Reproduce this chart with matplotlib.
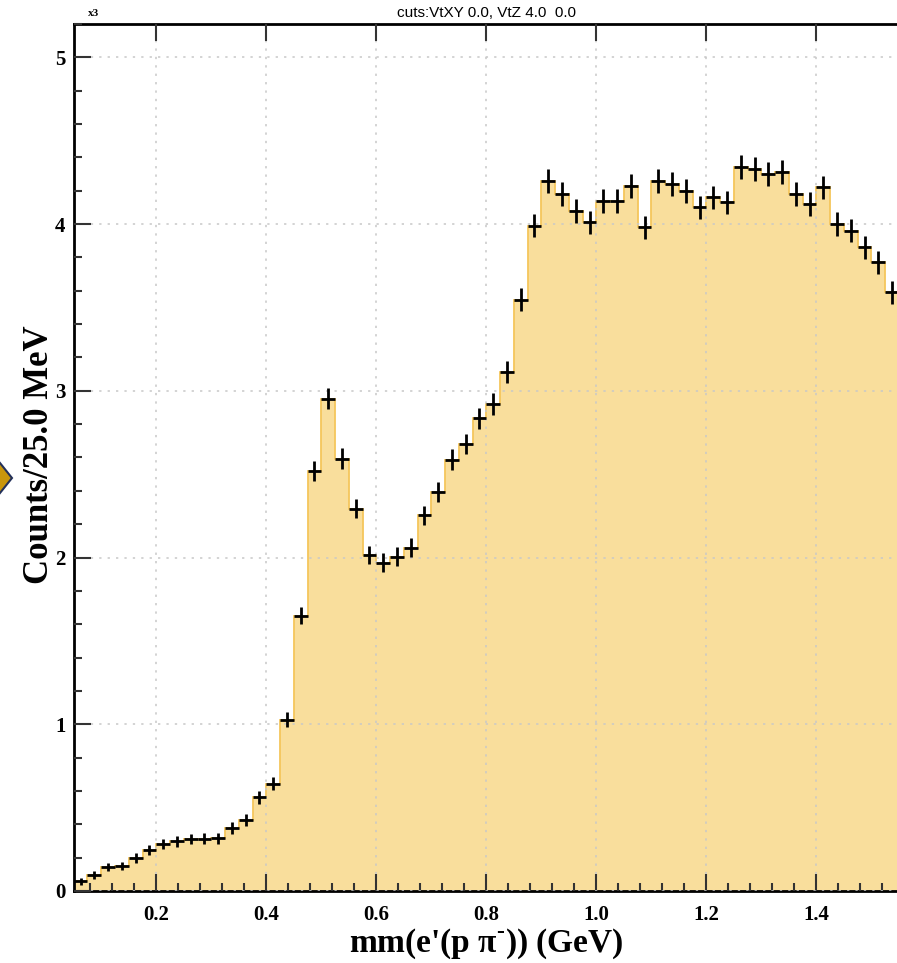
import numpy as np
import matplotlib
matplotlib.use("Agg")
from matplotlib import pyplot as plt
from matplotlib.patches import Polygon
from matplotlib.ticker import MultipleLocator

plt.rcParams["mathtext.fontset"] = "custom"
plt.rcParams["mathtext.rm"] = "Liberation Serif:bold"
plt.rcParams["mathtext.bf"] = "Liberation Serif:bold"

# histogram, 25 MeV bins from 0.05 to 1.55 GeV, counts in thousands
edges = np.linspace(0.05, 1.55, 61)
counts = [0.058, 0.093, 0.144, 0.150, 0.198, 0.244, 0.282, 0.298, 0.311, 0.314,
          0.315, 0.378, 0.425, 0.562, 0.643, 1.026, 1.652, 2.520, 2.953, 2.593,
          2.293, 2.016, 1.970, 2.006, 2.060, 2.253, 2.390, 2.587, 2.680, 2.835,
          2.920, 3.113, 3.547, 3.990, 4.260, 4.180, 4.080, 4.010, 4.140, 4.140,
          4.230, 3.980, 4.260, 4.240, 4.200, 4.100, 4.160, 4.130, 4.340, 4.330,
          4.300, 4.310, 4.180, 4.120, 4.220, 4.000, 3.960, 3.860, 3.770, 3.590]
# half-height of the error bars as drawn
errs = [0.022, 0.024, 0.026, 0.026, 0.028, 0.030, 0.031, 0.032, 0.032, 0.032,
        0.032, 0.035, 0.036, 0.039, 0.040, 0.045, 0.052, 0.060, 0.063, 0.061,
        0.058, 0.056, 0.055, 0.056, 0.056, 0.058, 0.060, 0.061, 0.062, 0.063,
        0.064, 0.065, 0.068, 0.070, 0.072, 0.071, 0.071, 0.070, 0.071, 0.071,
        0.071, 0.070, 0.072, 0.072, 0.071, 0.071, 0.071, 0.071, 0.072, 0.072,
        0.072, 0.072, 0.071, 0.071, 0.071, 0.070, 0.070, 0.069, 0.069, 0.068]
counts = np.array(counts)
centers = 0.5 * (edges[:-1] + edges[1:])

serif = "Liberation Serif"

fig = plt.figure(figsize=(8.97, 9.63), dpi=100)
ax = fig.add_axes([0.0822, 0.0748, 0.92, 0.9003])

ax.stairs(counts, edges, fill=True, color="#f9de9c", zorder=1)
ax.stairs(counts, edges, color="#f5c65c", lw=1.3, zorder=2)
ax.errorbar(centers, counts, xerr=0.0125, yerr=errs, fmt="none",
            ecolor="black", elinewidth=2, capsize=0, zorder=4)

ax.set_xlim(0.05, 1.55)
ax.set_ylim(0, 5.2)
ax.xaxis.set_major_locator(MultipleLocator(0.2))
ax.xaxis.set_minor_locator(MultipleLocator(0.04))
ax.yaxis.set_major_locator(MultipleLocator(1))
ax.yaxis.set_minor_locator(MultipleLocator(0.2))
ax.xaxis.set_major_formatter(lambda v, p: f"{v:.1f}")
ax.yaxis.set_major_formatter(lambda v, p: f"{v:.0f}")

ax.grid(True, which="major", ls=(0, (1.5, 4)), color="#c8c8c8", lw=1.1, zorder=3)
ax.set_axisbelow(False)

ax.tick_params(which="both", direction="in", top=True, right=False, width=1.5, color="#333333")
ax.tick_params(which="major", length=12)
ax.tick_params(which="minor", length=6, top=False)
ax.tick_params(axis="x", pad=10)
ax.tick_params(axis="y", pad=6)
for lab in ax.get_xticklabels() + ax.get_yticklabels():
    lab.set_fontfamily(serif)
    lab.set_fontweight("bold")
    lab.set_fontsize(15)

for s in ["left", "bottom", "top"]:
    ax.spines[s].set_linewidth(2)
ax.spines["right"].set_visible(False)

ax.set_xlabel("mm(e'(p \u03c0$^{\\text{-}}$)) (GeV)", family=serif, fontweight="bold",
              fontsize=24)
ax.set_ylabel("Counts/25.0 MeV", family=serif, fontweight="bold", fontsize=25)
ax.xaxis.set_label_coords(0.5, -0.061, transform=ax.transAxes)
ax.yaxis.set_label_coords(-0.042, 0.503, transform=ax.transAxes)
ax.xaxis.label.set_va("center")
ax.yaxis.label.set_va("center")
ax.set_title("cuts:VtXY 0.0, VtZ 4.0  0.0", family="Liberation Sans", fontsize=11, pad=5)
fig.text(88 / 897, 1 - 14 / 963, "x3", family=serif, fontweight="bold", fontsize=8,
         va="center")

# gold marker on the left edge
cx, cy = 0.0, 1 - 478 / 963
dx, dy = 12 / 897, 15 / 963
fig.patches.append(Polygon([[cx - dx, cy], [cx, cy + dy], [cx + dx, cy], [cx, cy - dy]],
                           closed=True, transform=fig.transFigure, facecolor="#c9960c",
                           edgecolor="#23305a", lw=1.5))

fig.savefig("out.png", dpi=100)
